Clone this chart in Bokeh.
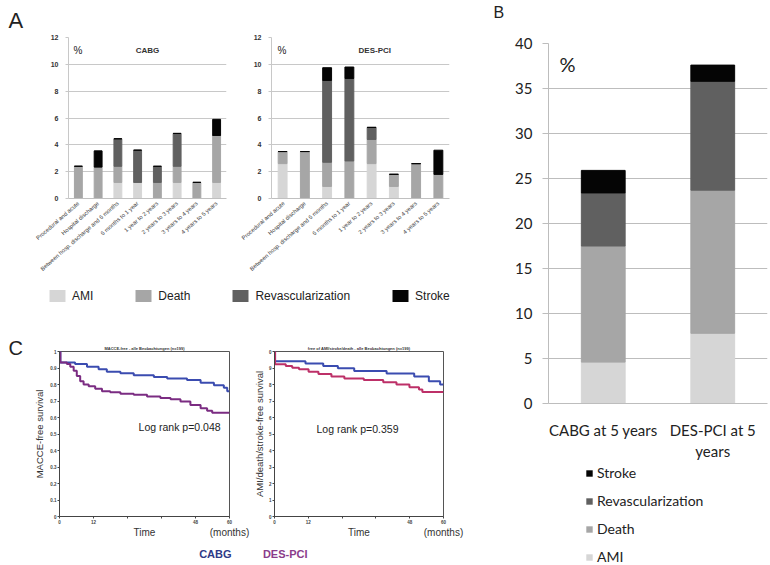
from bokeh.plotting import figure
from bokeh.models import (ColumnDataSource, FactorRange, Range1d, Label, Legend, LegendItem,
                          FixedTicker, SingleIntervalTicker, LinearAxis)
from bokeh.layouts import row, column
from bokeh.embed import file_html
from bokeh.resources import INLINE

# ---------------- data ----------------
periods = ["Procedural and acute", "Hospital discharge", "Between hosp. discharge and 6 months",
           "6 months to 1 year", "1 year to 2 years", "2 years to 3 years",
           "3 years to 4 years", "4 years to 5 years"]
event_types = ["AMI", "Death", "Revascularization", "Stroke"]

cabg_ami    = [0.0, 0.0, 1.2, 1.2, 0.0, 1.2, 0.0, 1.2]
cabg_death  = [2.4, 2.35, 1.2, 0.0, 1.2, 1.2, 1.2, 3.5]
cabg_revasc = [0.0, 0.0, 2.05, 2.4, 1.2, 2.45, 0.0, 0.0]
cabg_stroke = [0.0, 1.2, 0.0, 0.0, 0.0, 0.0, 0.0, 1.2]

pci_ami     = [2.6, 0.0, 0.9, 0.0, 2.6, 0.9, 0.0, 0.0]
pci_death   = [0.9, 3.5, 1.8, 2.8, 1.8, 0.9, 2.6, 1.8]
pci_revasc  = [0.0, 0.0, 6.1, 6.15, 0.9, 0.0, 0.0, 0.0]
pci_stroke  = [0.0, 0.0, 0.95, 0.85, 0.0, 0.0, 0.0, 1.8]

groups_b  = ["CABG at 5 years", "DES-PCI at 5\nyears"]
b_ami     = [4.6, 7.8]
b_death   = [12.9, 15.9]
b_revasc  = [5.9, 12.1]
b_stroke  = [2.5, 1.8]

# Kaplan-Meier (months, survival)
macce_cabg_t = [0, 0.3, 5.5, 9.7, 13.8, 16.7, 21.5, 26.2, 33.3, 38, 45, 49.8, 54.5, 58, 59.2, 60]
macce_cabg_s = [1.0, 0.934, 0.924, 0.907, 0.893, 0.878, 0.868, 0.856, 0.845, 0.837, 0.827, 0.81,
                0.796, 0.78, 0.759, 0.759]
macce_pci_t = [0, 0.3, 2.6, 3.8, 5.0, 6.1, 7.3, 8.5, 10.3, 12.6, 15, 17.9, 21.5, 26.2, 30.9, 35.6,
               39.2, 42.7, 46.2, 49.8, 52.1, 53.9, 60]
macce_pci_s = [1.0, 0.934, 0.924, 0.907, 0.883, 0.852, 0.82, 0.80, 0.79, 0.775, 0.759, 0.753,
               0.744, 0.738, 0.728, 0.718, 0.711, 0.697, 0.676, 0.656, 0.641, 0.629, 0.629]
hard_cabg_t = [0, 0.2, 11, 17.3, 22.5, 28.3, 39.8, 49.6, 54.8, 58.8, 60]
hard_cabg_s = [1.0, 0.941, 0.927, 0.912, 0.898, 0.882, 0.867, 0.849, 0.82, 0.80, 0.80]
hard_pci_t = [0, 0.2, 4, 6.3, 8.7, 12.1, 15.6, 20.2, 24.8, 31.7, 38.6, 43.3, 47.9, 51.3, 52.5, 60]
hard_pci_s = [1.0, 0.922, 0.912, 0.902, 0.892, 0.878, 0.863, 0.849, 0.837, 0.827, 0.814, 0.80,
              0.784, 0.769, 0.755, 0.755]

km_xticks = [0, 12, 24, 36, 48, 60]
km_yticks = [0.0, 0.1, 0.2, 0.3, 0.4, 0.5, 0.6, 0.7, 0.8, 0.9, 1.0]
right_ylabels = ["0", "1", "2", "3", "4", "5", "6", "7", "8", "9", "0"]

# ---------------- styles ----------------
COLORS = ["#d6d6d6", "#a6a6a6", "#606060", "#050505"]
SANS = "Liberation Sans"
CAL = "Lato"
BLUE = "#3b4cb0"
PURPLE = "#7b2c82"
CRIMSON = "#bd3068"


def blank_fig(width, height):
    """Axis-less figure whose data units are its own pixels (for loose texts)."""
    p = figure(width=width, height=height, x_range=Range1d(0, width), y_range=Range1d(0, height),
               min_border=0, x_axis_location=None, y_axis_location=None,
               output_backend="svg", toolbar_location=None)
    p.grid.visible = False
    p.outline_line_color = None
    return p


def letter_fig(width, height, letter, x, top, size):
    p = blank_fig(width, height)
    p.add_layout(Label(x=x, y=height - top, text=letter, text_font=SANS, text_font_size=size,
                       text_baseline="top", text_color="#222222"))
    return p


def bar_panel(word, ami, death, revasc, stroke, width, mbl, mbr, pct_x, word_x):
    src = ColumnDataSource(dict(period=periods, AMI=ami, Death=death,
                                Revascularization=revasc, Stroke=stroke))
    p = figure(x_range=FactorRange(factors=periods), y_range=Range1d(0, 12),
               width=width, height=280, min_border_left=mbl, min_border_right=mbr,
               min_border_top=32, min_border_bottom=82,
               output_backend="svg", toolbar_location=None)
    p.vbar_stack(event_types, x="period", width=0.4, color=COLORS, source=src)
    p.outline_line_color = None
    p.xgrid.grid_line_color = None
    p.ygrid.grid_line_color = "#c8c8c8"
    p.yaxis.ticker = SingleIntervalTicker(interval=2)
    p.yaxis.axis_line_color = "#c8c8c8"
    p.yaxis.major_tick_line_color = "#c8c8c8"
    p.yaxis.major_tick_out = 3
    p.yaxis.major_tick_in = 0
    p.yaxis.minor_tick_line_color = None
    p.yaxis.major_label_text_font = SANS
    p.yaxis.major_label_text_font_style = "bold"
    p.yaxis.major_label_text_font_size = "7px"
    p.yaxis.major_label_text_color = "#333333"
    p.yaxis.major_label_standoff = 6
    p.xaxis.axis_line_color = "#c0c0c0"
    p.xaxis.major_tick_line_color = None
    p.xaxis.major_tick_out = 0
    p.xaxis.major_tick_in = 0
    p.xaxis.major_label_orientation = 0.72
    p.xaxis.major_label_text_font = SANS
    p.xaxis.major_label_text_font_size = "5.8px"
    p.xaxis.major_label_text_color = "#444444"
    p.xaxis.major_label_standoff = 4
    p.add_layout(Label(x=pct_x, y=11.0, text="%", text_font=SANS, text_font_size="10px",
                       text_baseline="middle", text_color="#222222"))
    p.add_layout(Label(x=word_x, y=11.0, text=word, text_font=SANS, text_font_size="8px",
                       text_font_style="bold", text_align="center", text_baseline="middle",
                       text_color="#333333"))
    return p


pA1 = bar_panel("CABG", cabg_ami, cabg_death, cabg_revasc, cabg_stroke, 240, 68, 14, 0.25, 4.0)
pA2 = bar_panel("DES-PCI", pci_ami, pci_death, pci_revasc, pci_stroke, 242, 31, 33, 0.27, 4.64)
pA1.title.text = "A"
pA1.title.align = "left"
pA1.title.offset = -60
pA1.title.text_font = SANS
pA1.title.text_font_style = "normal"
pA1.title.text_font_size = "22px"
pA1.title.text_color = "#222222"


def legend_strip(width, height, items_kw, **legend_kw):
    p = blank_fig(width, height)
    items = []
    for lab, col in items_kw:
        # zero-size placeholder glyph, only used to draw the legend swatch
        r = p.vbar(x=[0], top=[0], width=0, fill_color=col, line_color=None)
        items.append(LegendItem(label=lab, renderers=[r]))
    leg = Legend(items=items, padding=0, margin=0, border_line_color=None,
                 background_fill_alpha=0, **legend_kw)
    p.add_layout(leg)
    return p


pLeg = legend_strip(482, 32, list(zip(event_types, COLORS)),
                    orientation="horizontal", location=(47, 9),
                    glyph_width=20, glyph_height=15, label_standoff=5, spacing=40,
                    label_text_font=SANS, label_text_font_size="12px", label_height=15,
                    label_text_color="#222222")

# ---------------- panel C ----------------
def text_axis(p, side, ticks, overrides, size, color, standoff, bold=False, label=None,
              label_size=None):
    ax = LinearAxis(ticker=FixedTicker(ticks=ticks), major_label_overrides=overrides,
                    axis_line_color=None, major_tick_line_color=None,
                    minor_tick_line_color=None, major_tick_out=0, major_tick_in=0,
                    major_label_standoff=standoff, major_label_text_font=SANS,
                    major_label_text_font_size=size, major_label_text_color=color,
                    major_label_text_font_style="bold" if bold else "normal")
    if label is not None:
        ax.axis_label = label
        ax.axis_label_text_font = SANS
        ax.axis_label_text_font_size = label_size
        ax.axis_label_text_font_style = "bold"
        ax.axis_label_text_color = "#333333"
        ax.axis_label_standoff = 1
    p.add_layout(ax, side)
    return ax


def km_fig(width, mbl, mbr, header, group_tick, group_name, group_color, ylabels):
    p = figure(x_range=Range1d(0, 60), y_range=Range1d(0, 1), width=width, height=253,
               min_border_left=mbl, min_border_right=mbr, min_border_top=39,
               min_border_bottom=49, output_backend="svg", toolbar_location=None)
    p.outline_line_color = "#555555"
    p.grid.grid_line_color = None
    p.xaxis.ticker = FixedTicker(ticks=km_xticks)
    p.xaxis.major_label_overrides = {24: "", 36: ""}
    p.yaxis.ticker = FixedTicker(ticks=km_yticks)
    if ylabels is not None:
        p.yaxis.major_label_overrides = dict(zip(km_yticks, ylabels))
    for ax in (p.xaxis, p.yaxis):
        ax.axis_line_color = "#444444"
        ax.major_tick_line_color = "#444444"
        ax.major_tick_out = 2
        ax.major_tick_in = 0
        ax.minor_tick_line_color = None
        ax.major_label_text_font = SANS
        ax.major_label_text_font_size = "4.5px"
        ax.major_label_text_font_style = "bold"
        ax.major_label_text_color = "#444444"
        ax.major_label_standoff = 1
    p.yaxis.axis_label_text_font = SANS
    p.yaxis.axis_label_text_font_style = "normal"
    p.yaxis.axis_label_text_font_size = "9.5px"
    p.yaxis.axis_label_text_color = "#333333"
    p.yaxis.axis_label_standoff = 2
    # "Time" and "(months)" on one line below the ticks
    text_axis(p, "below", [30, 60], {30: "Time", 60: "(months)"}, "10px", "#333333", 0)
    # group name under the panel
    text_axis(p, "below", [group_tick], {group_tick: group_name}, "11px", group_color, 7,
              bold=True)
    # small header above the frame
    text_axis(p, "above", [], {}, "4px", "#333333", 0, label=header, label_size="4px")
    return p


pC1 = km_fig(224, 33, 21, "MACCE-free - alle Beobachtungen (n=199)", 55, "CABG", "#2e3a87",
             None)
pC1.yaxis.axis_label = "MACCE-free survival"
pC1.step(macce_cabg_t, macce_cabg_s, mode="after", line_width=2, color=BLUE)
pC1.step(macce_pci_t, macce_pci_s, mode="after", line_width=2, color=PURPLE)
pC1.add_layout(Label(x=27.9, y=0.54, text="Log rank p=0.048", text_font=SANS,
                     text_font_size="10.5px", text_baseline="middle", text_color="#222222"))

pC2 = km_fig(232, 20, 39, "free of AMI/stroke/death - alle Beobachtungen (n=199)", 3.8,
             "DES-PCI", "#8b3c8b", right_ylabels)
pC2.yaxis.axis_label = "AMI/death/stroke-free survival"
pC2.yaxis.axis_label_standoff = 1
pC2.step(hard_cabg_t, hard_cabg_s, mode="after", line_width=2, color=BLUE)
pC2.step(hard_pci_t, hard_pci_s, mode="after", line_width=2, color=CRIMSON)
pC2.add_layout(Label(x=14.9, y=0.53, text="Log rank p=0.359", text_font=SANS,
                     text_font_size="10.5px", text_baseline="middle", text_color="#222222"))

pCL = letter_fig(26, 253, "C", 8, 24, "20px")

# ---------------- panel B ----------------
srcB = ColumnDataSource(dict(group=groups_b, AMI=b_ami, Death=b_death,
                             Revascularization=b_revasc, Stroke=b_stroke))
pB = figure(x_range=FactorRange(factors=groups_b), y_range=Range1d(0, 40), width=288, height=441,
            min_border_left=66, min_border_right=3, min_border_top=21, min_border_bottom=55,
            output_backend="svg", toolbar_location=None)
pB.vbar_stack(event_types, x="group", width=0.4, color=COLORS, source=srcB)
pB.outline_line_color = None
pB.xgrid.grid_line_color = None
pB.ygrid.grid_line_color = "#bdbdbd"
pB.yaxis.ticker = SingleIntervalTicker(interval=5)
pB.yaxis.axis_line_color = "#bdbdbd"
pB.yaxis.major_tick_line_color = "#bdbdbd"
pB.yaxis.major_tick_out = 6
pB.yaxis.major_tick_in = 0
pB.yaxis.minor_tick_line_color = None
pB.yaxis.major_label_standoff = 10
pB.xaxis.axis_line_color = "#bdbdbd"
pB.xaxis.major_tick_line_color = None
pB.xaxis.major_tick_out = 0
pB.xaxis.major_tick_in = 0
pB.xaxis.major_label_standoff = 17
for ax in (pB.xaxis, pB.yaxis):
    ax.major_label_text_font = CAL
    ax.major_label_text_font_size = "15px"
    ax.major_label_text_color = "#222222"
pB.add_layout(Label(x=0.1, y=37.7, text="%", text_font=CAL, text_font_size="20px",
                    text_baseline="middle", text_color="#222222"))

pBT = letter_fig(288, 22, "B", 11, 3, "16px")

pBL = legend_strip(288, 102, list(reversed(list(zip(event_types, COLORS)))),
                   orientation="vertical", location=(37, 0),
                   glyph_width=8, glyph_height=8, label_standoff=4, spacing=11,
                   label_text_font=CAL, label_text_font_size="14px", label_height=16,
                   label_text_color="#222222")

layout = row(column(row(pA1, pA2), pLeg, row(column(pCL), pC1, pC2)),
             column(row(pBT), pB, pBL))

with open("out.html", "w") as f:
    f.write(file_html(layout, INLINE))
